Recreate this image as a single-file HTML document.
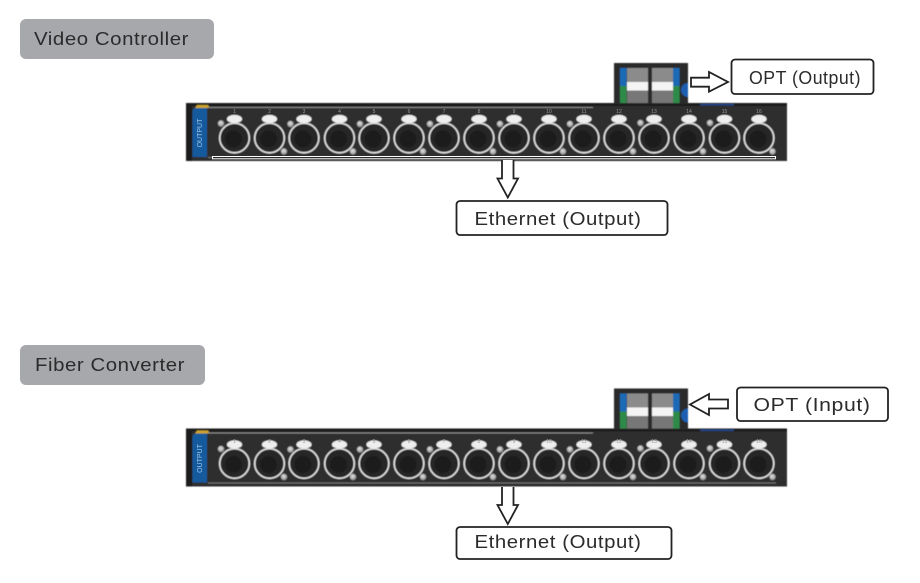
<!DOCTYPE html>
<html><head><meta charset="utf-8"><style>
html,body{margin:0;padding:0;background:#fff;width:920px;height:583px;overflow:hidden}
svg{display:block}
text{font-family:"Liberation Sans",Arial,sans-serif}
.l{font-size:18px;fill:#2b2b2b;letter-spacing:.5px}
.n{font-size:5px;fill:#999;text-anchor:middle}
.box{fill:#fff;stroke:#222;stroke-width:1.8}
.arr{fill:#fff;stroke:#222;stroke-width:1.8}
</style></head><body>
<svg width="920" height="583" viewBox="0 0 920 583" xmlns="http://www.w3.org/2000/svg">
<defs>
<filter id="s" x="-5%" y="-5%" width="110%" height="110%"><feGaussianBlur stdDeviation=".5"/></filter>
<radialGradient id="led" cx=".45" cy=".4" r=".6"><stop offset="0" stop-color="#e6e6e6"/><stop offset="1" stop-color="#8b8b8b"/></radialGradient>
<g id="p">
<ellipse cx="0" cy="-19" rx="7.6" ry="4.1" fill="#eeeeee"/>
<circle cx="0" cy="0" r="14.8" fill="#282828" stroke="#e2e2e2" stroke-width="1.6"/>
<circle cx="-1" cy="1" r="8.500" fill="#1b1b1b"/>
</g>
<circle id="d" r="3.2" fill="url(#led)"/>
<g id="ports">
<use href="#p" x="234.5" y="138"/><use href="#p" x="269.5" y="138"/><use href="#p" x="304" y="138"/><use href="#p" x="339.5" y="138"/>
<use href="#p" x="374" y="138"/><use href="#p" x="409" y="138"/><use href="#p" x="444" y="138"/><use href="#p" x="479" y="138"/>
<use href="#p" x="514" y="138"/><use href="#p" x="549" y="138"/><use href="#p" x="584" y="138"/><use href="#p" x="619" y="138"/>
<use href="#p" x="654" y="138"/><use href="#p" x="689" y="138"/><use href="#p" x="724.5" y="138"/><use href="#p" x="759" y="138"/>
<use href="#d" x="221" y="123.5"/><use href="#d" x="284" y="151.5"/><use href="#d" x="290.5" y="124"/><use href="#d" x="353" y="151.5"/>
<use href="#d" x="360" y="124"/><use href="#d" x="423" y="151.5"/><use href="#d" x="430" y="124"/><use href="#d" x="493" y="151.5"/>
<use href="#d" x="500" y="124"/><use href="#d" x="563" y="151.5"/><use href="#d" x="570" y="124"/><use href="#d" x="633" y="151.5"/>
<use href="#d" x="640.5" y="123"/><use href="#d" x="703" y="151.5"/><use href="#d" x="710" y="123"/><use href="#d" x="772.5" y="151.5"/>
</g>
<g id="panel" filter="url(#s)">
<rect x="186" y="103" width="601" height="58" fill="#2f2f2f"/>
<rect x="186" y="103" width="601" height="3" fill="#1a1a1a"/>
<rect x="186" y="103" width="6" height="58" fill="#1b1b1b"/>
<rect x="614" y="63" width="74" height="41" fill="#2c2c2c"/>
<path d="M195 108l2-3h11l2 3z" fill="#c9a32e"/>
<path d="M192.500 112q0-4 4-4h10.500v49h-14.500z" fill="#135a9e"/>
<rect x="208" y="107" width="385" height="1" fill="#8d8d8d"/>
<rect x="208" y="157" width="568" height="1" fill="#777"/>
<rect x="700" y="104" width="34" height="1.500" fill="#24478a"/>
<rect x="620" y="68" width="6.500" height="18" fill="#1f6bb5"/>
<rect x="620" y="86" width="6.500" height="17" fill="#2f8a48"/>
<rect x="673" y="68" width="6.500" height="18" fill="#1f6bb5"/>
<rect x="673" y="86" width="6.500" height="17" fill="#2f8a48"/>
<rect x="627" y="68" width="21" height="15" fill="#8b8b8b"/>
<rect x="627" y="82" width="21" height="8.500" fill="#f4f4f4"/>
<rect x="627" y="90.500" width="21" height="12.500" fill="#777"/>
<rect x="652" y="68" width="21" height="15" fill="#8b8b8b"/>
<rect x="652" y="82" width="21" height="8.500" fill="#f4f4f4"/>
<rect x="652" y="90.500" width="21" height="12.500" fill="#777"/>
<path d="M688 83a6 6 0 0 0 0 14z" fill="#1f5fb0"/>
<use href="#ports"/>
</g>
</defs>

<!-- Video Controller -->
<rect x="20" y="19" width="194" height="40" rx="6" fill="#a7a8ac"/>
<text class="l" x="34" y="45" textLength="155" lengthAdjust="spacingAndGlyphs">Video Controller</text>
<use href="#panel"/>
<text transform="translate(202 133) rotate(-90)" font-size="7" fill="#9cc3e6" text-anchor="middle">OUTPUT</text>
<text class="n" x="234.5" y="113">1</text><text class="n" x="269.5" y="113">2</text><text class="n" x="304" y="113">3</text><text class="n" x="339.5" y="113">4</text>
<text class="n" x="374" y="113">5</text><text class="n" x="409" y="113">6</text><text class="n" x="444" y="113">7</text><text class="n" x="479" y="113">8</text>
<text class="n" x="514" y="113">9</text><text class="n" x="549" y="113">10</text><text class="n" x="584" y="113">11</text><text class="n" x="619" y="113">12</text>
<text class="n" x="654" y="113">13</text><text class="n" x="689" y="113">14</text><text class="n" x="724.5" y="113">15</text><text class="n" x="759" y="113">16</text>
<rect x="212.500" y="156.500" width="563" height="2.300" fill="#2a2a2a" stroke="#fff" stroke-width="1"/>
<path class="arr" d="M691 77.700H709V72L728 82 709 91.700V86.700H691Z"/>
<rect class="box" x="731.500" y="59.500" width="142" height="34.500" rx="3.500"/>
<text class="l" x="749" y="84" textLength="112" lengthAdjust="spacingAndGlyphs">OPT (Output)</text>
<path class="arr" d="M502 160V178.500H497.500L507.800 197.500 518 178.500H513.500V160"/>
<rect class="box" x="456.500" y="201" width="211" height="34" rx="3.500"/>
<text class="l" x="474.500" y="225" textLength="167" lengthAdjust="spacingAndGlyphs">Ethernet (Output)</text>

<!-- Fiber Converter -->
<rect x="20" y="345" width="185" height="40" rx="6" fill="#a7a8ac"/>
<text class="l" x="35" y="371" textLength="150" lengthAdjust="spacingAndGlyphs">Fiber Converter</text>
<use href="#panel" y="325.500"/>
<text transform="translate(202 458.500) rotate(-90)" font-size="7" fill="#9cc3e6" text-anchor="middle">OUTPUT</text>
<text class="n" x="234.5" y="443">1</text><text class="n" x="269.5" y="443">2</text><text class="n" x="304" y="443">3</text><text class="n" x="339.5" y="443">4</text>
<text class="n" x="374" y="443">5</text><text class="n" x="409" y="443">6</text><text class="n" x="444" y="443">7</text><text class="n" x="479" y="443">8</text>
<text class="n" x="514" y="443">9</text><text class="n" x="549" y="443">10</text><text class="n" x="584" y="443">11</text><text class="n" x="619" y="443">12</text>
<text class="n" x="654" y="443">13</text><text class="n" x="689" y="443">14</text><text class="n" x="724.5" y="443">15</text><text class="n" x="759" y="443">16</text>
<path class="arr" d="M728 399.500H709V394L690 404.500 709 415V408.500H728Z"/>
<rect class="box" x="737" y="387.500" width="151" height="33.500" rx="3.500"/>
<text class="l" x="753.500" y="411" textLength="117" lengthAdjust="spacingAndGlyphs">OPT (Input)</text>
<path class="arr" d="M502 487V505H497.500L507.800 524 518 505H513.500V487"/>
<rect class="box" x="456.500" y="527" width="215" height="32" rx="3.500"/>
<text class="l" x="474.500" y="548" textLength="167" lengthAdjust="spacingAndGlyphs">Ethernet (Output)</text>
</svg>
</body></html>
